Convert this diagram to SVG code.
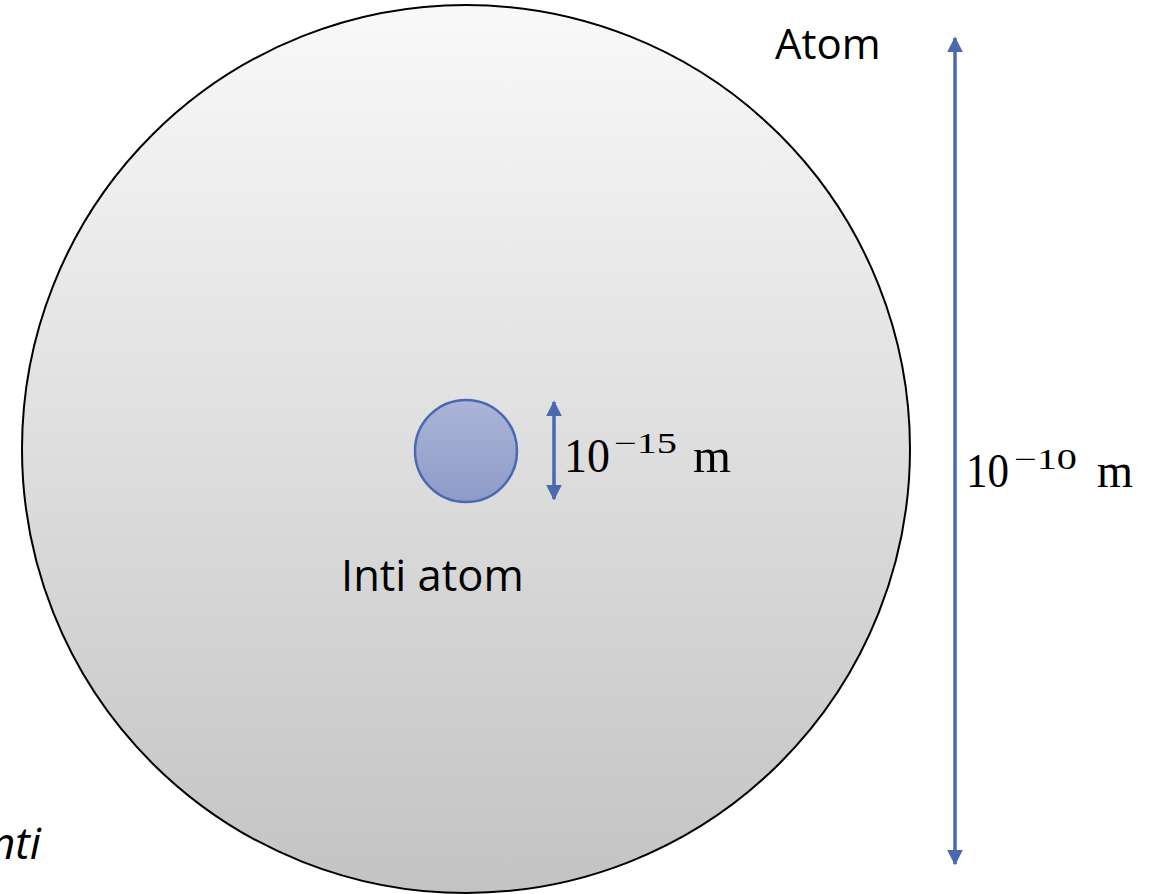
<svg xmlns="http://www.w3.org/2000/svg" width="1158" height="894" viewBox="0 0 1158 894">
<style>
.lbl{font-family:"Open Sans","Liberation Sans",sans-serif;fill:#000}
.math{font-family:"Liberation Serif","DejaVu Serif",serif;fill:#000}
.arr{stroke:#4a69b0;stroke-width:3.5;fill:none}
</style>
<defs>
<linearGradient id="gBig" x1="0" y1="0" x2="0" y2="1">
<stop offset="0" stop-color="#f9f9f9"/>
<stop offset="1" stop-color="#c3c3c3"/>
</linearGradient>
<linearGradient id="gSmall" x1="0" y1="0" x2="0" y2="1">
<stop offset="0" stop-color="#abb5d8"/>
<stop offset="1" stop-color="#8e9bc8"/>
</linearGradient>
<marker id="ah" viewBox="0 0 10 10" refX="9" refY="5" markerWidth="4.6" markerHeight="4.6" orient="auto-start-reverse" markerUnits="strokeWidth">
<path d="M0,0 L10,5 L0,10 z" fill="#4a69b0"/>
</marker>
</defs>
<g id="atom">
<circle cx="466" cy="449" r="444" fill="url(#gBig)" stroke="#000" stroke-width="2"/>
<text class="lbl" x="775" y="59" font-size="42">Atom</text>
</g>
<g id="nucleus">
<circle cx="466" cy="451" r="51" fill="url(#gSmall)" stroke="#4a69b0" stroke-width="2.5"/>
<text class="lbl" x="341" y="591" font-size="43.5">Inti atom</text>
</g>
<g id="connectors">
<line class="arr" x1="955" y1="38" x2="955" y2="864" marker-start="url(#ah)" marker-end="url(#ah)"/>
<line class="arr" x1="554" y1="402" x2="554" y2="499" marker-start="url(#ah)" marker-end="url(#ah)"/>
</g>
<g id="labels">
<text class="math" x="564" y="472" font-size="48" textLength="46" lengthAdjust="spacingAndGlyphs">10</text>
<text class="math" x="614" y="453" font-size="29" textLength="63" lengthAdjust="spacingAndGlyphs">−15</text>
<text class="math" x="693" y="472" font-size="48" textLength="38" lengthAdjust="spacingAndGlyphs">m</text>
<text class="math" x="966" y="487" font-size="48" textLength="43" lengthAdjust="spacingAndGlyphs">10</text>
<text class="math" x="1014" y="469" font-size="29" textLength="63" lengthAdjust="spacingAndGlyphs">−10</text>
<text class="math" x="1097" y="487" font-size="48" textLength="36" lengthAdjust="spacingAndGlyphs">m</text>
<text class="lbl" x="-10" y="859" font-size="44" font-style="italic">nti</text>
</g>
</svg>
